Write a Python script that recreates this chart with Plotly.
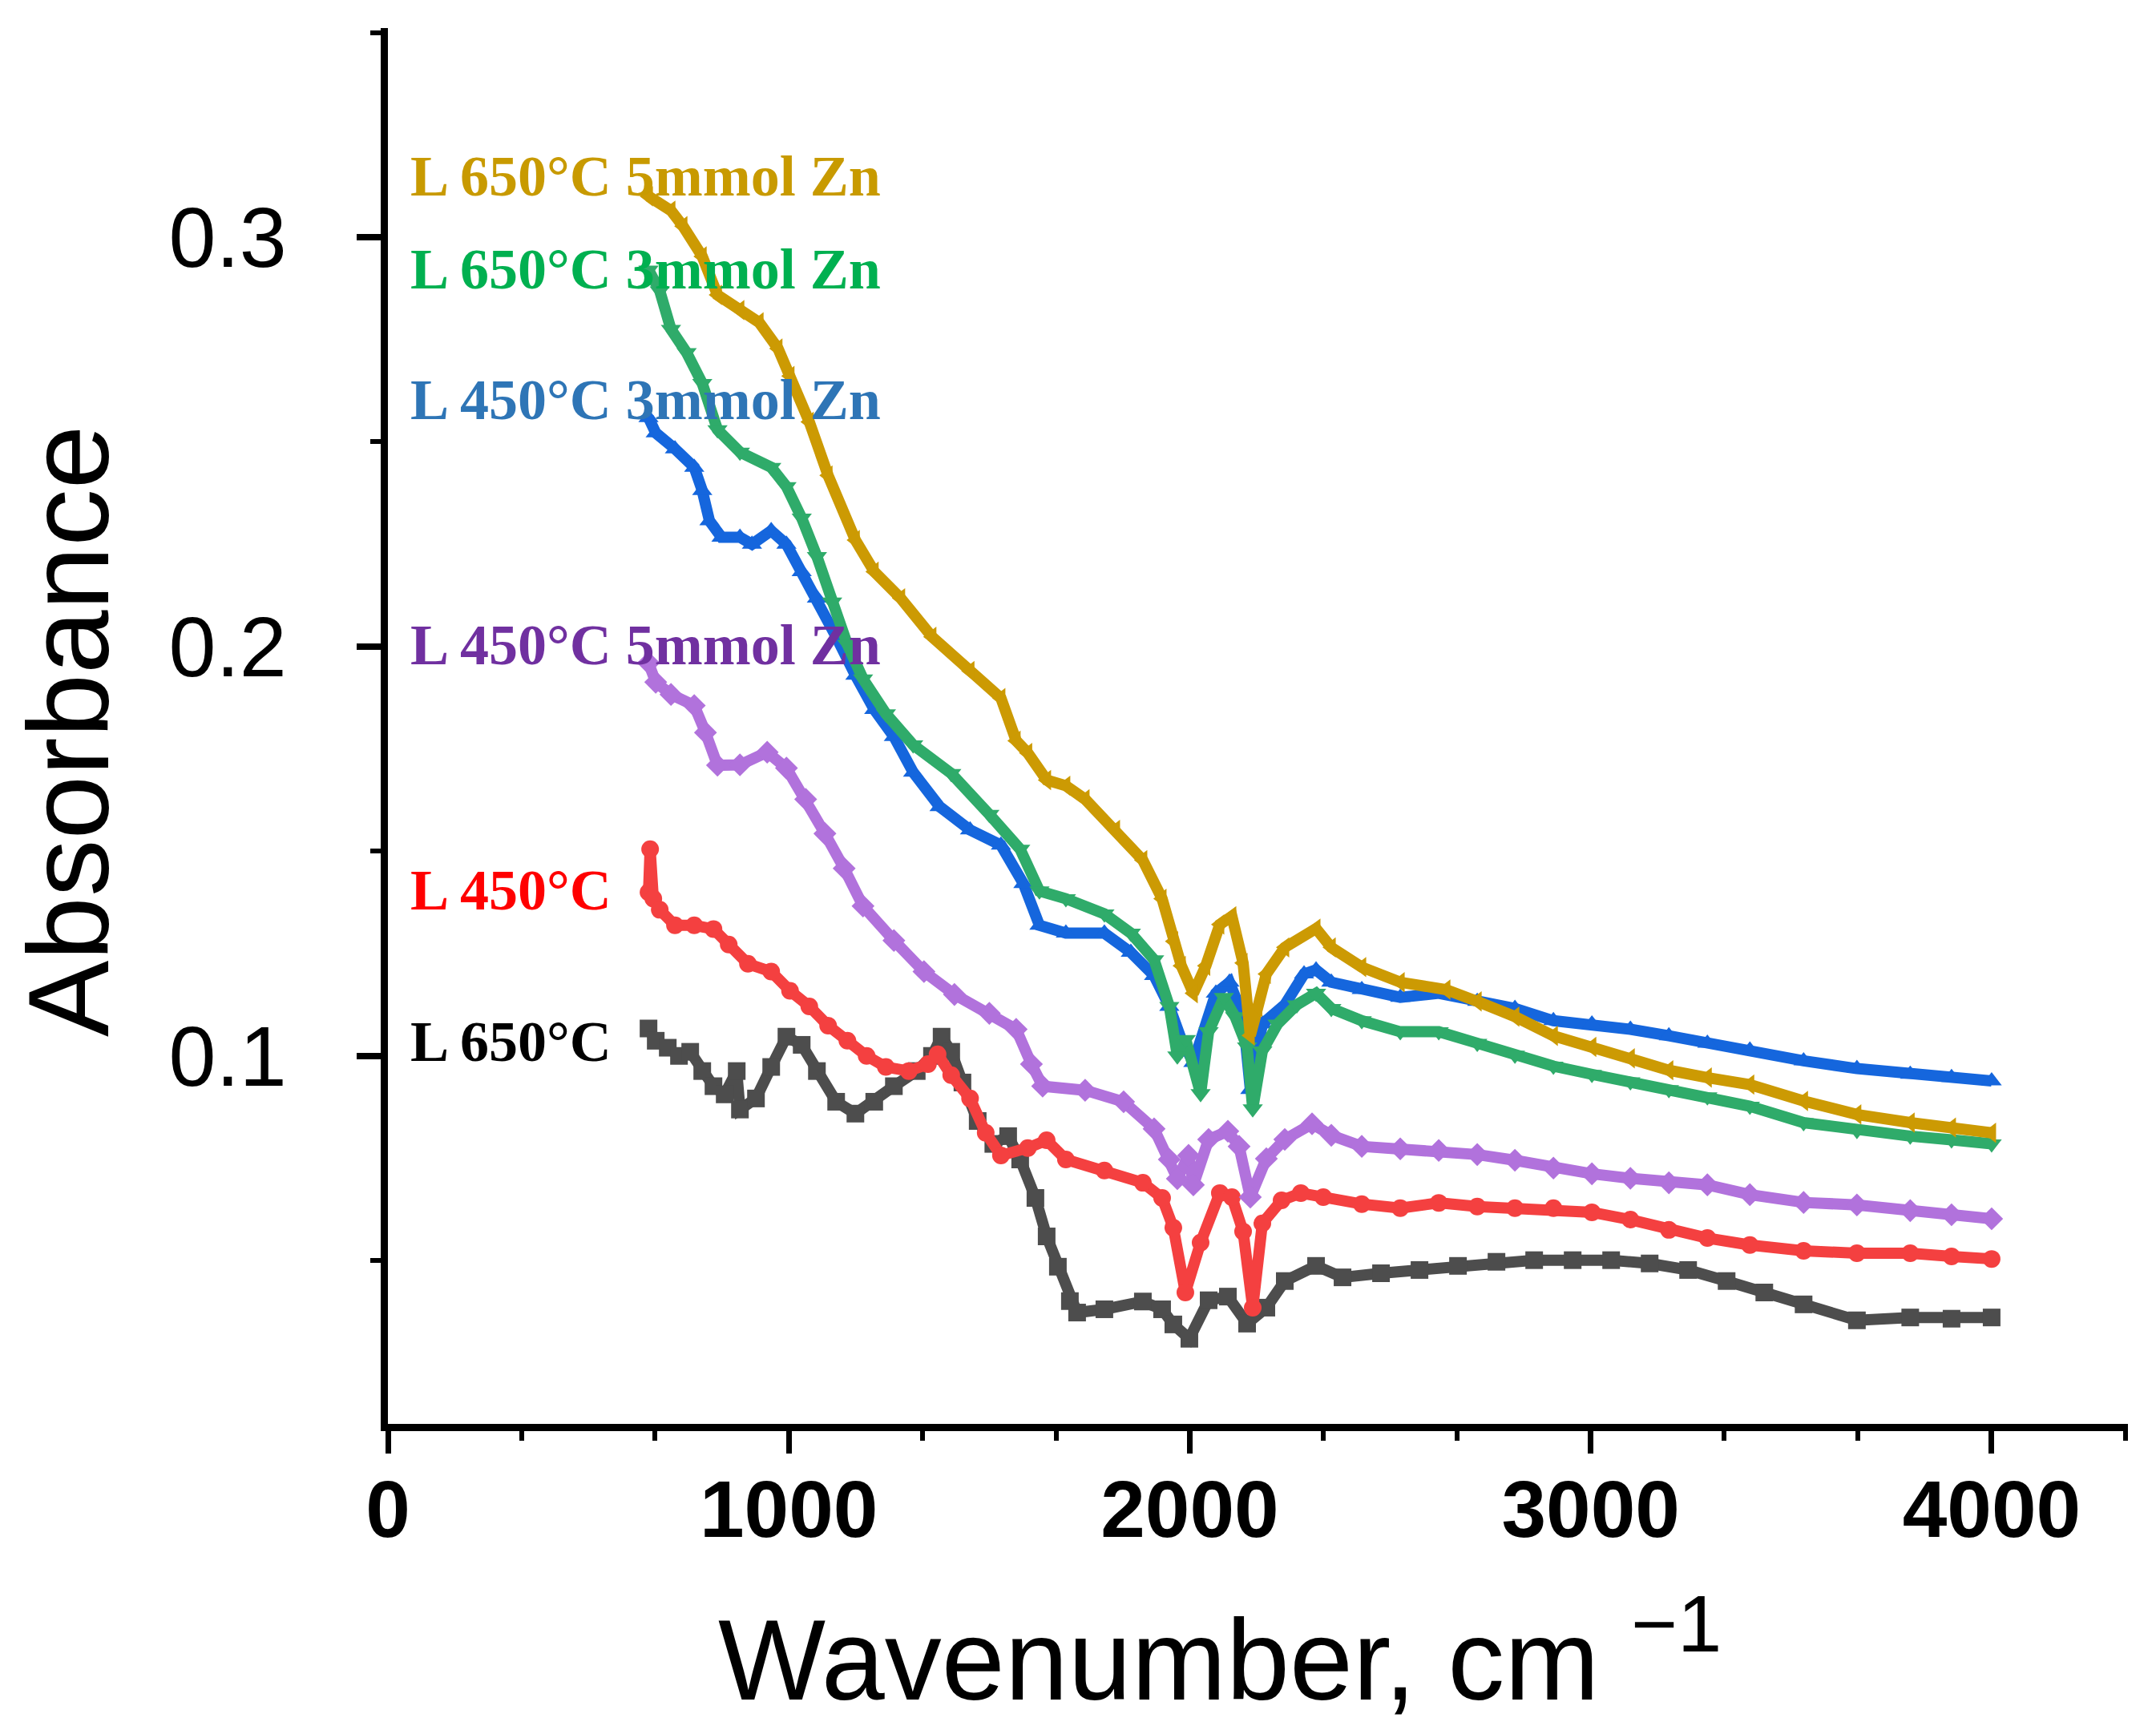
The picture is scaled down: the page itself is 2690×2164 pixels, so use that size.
import plotly.graph_objects as go

# ---------------- data ----------------
names = ["L 650°C", "L 450°C", "L 450°C 3mmol Zn", "L 650°C 3mmol Zn",
         "L 450°C 5mmol Zn", "L 650°C 5mmol Zn"]

x_650 = [650, 668, 698, 726, 754, 784, 812, 840, 870, 878, 918, 956, 994, 1032, 1070, 1118,
         1166, 1213, 1262, 1319, 1357, 1381, 1405, 1433, 1471, 1510, 1547, 1577, 1615, 1643,
         1671, 1701, 1719, 1787, 1883, 1931, 1959, 1999, 2047, 2095, 2143, 2191, 2237, 2315,
         2381, 2477, 2573, 2669, 2765, 2859, 2955, 3051, 3147, 3243, 3339, 3433, 3531, 3664,
         3797, 3900, 4000]
y_650 = [0.1067, 0.1037, 0.102, 0.100, 0.101, 0.0963, 0.0926, 0.0906, 0.0963, 0.0869, 0.0896,
         0.0973, 0.1047, 0.1027, 0.0963, 0.0888, 0.0859, 0.0888, 0.0926, 0.0963, 0.100, 0.1047,
         0.101, 0.0935, 0.0841, 0.0785, 0.0804, 0.0747, 0.0653, 0.0559, 0.0485, 0.0401, 0.0373,
         0.0381, 0.040, 0.0381, 0.0344, 0.0309, 0.0403, 0.0412, 0.0346, 0.0385, 0.045, 0.0487,
         0.0459, 0.0469, 0.0477, 0.0487, 0.0497, 0.0501, 0.0501, 0.0501, 0.0493, 0.0477, 0.045,
         0.0422, 0.0393, 0.0354, 0.0361, 0.0358, 0.0361]

x_450 = [650, 654, 662, 678, 716, 764, 812, 850, 898, 956, 1003, 1051, 1098, 1146, 1194, 1242,
         1299, 1347, 1371, 1405, 1452, 1491, 1529, 1596, 1643, 1691, 1787, 1883, 1931, 1959,
         1989, 2027, 2075, 2105, 2133, 2157, 2181, 2229, 2277, 2333, 2429, 2525, 2621, 2717,
         2811, 2907, 3003, 3099, 3195, 3291, 3397, 3531, 3664, 3797, 3900, 4000]
y_450 = [0.140, 0.1505, 0.1384, 0.1357, 0.1319, 0.1319, 0.131, 0.1272, 0.1225, 0.1206, 0.1159,
         0.1121, 0.1074, 0.1037, 0.100, 0.0973, 0.0963, 0.098, 0.1004, 0.0953, 0.0896, 0.0812,
         0.0757, 0.0775, 0.0794, 0.0747, 0.072, 0.069, 0.0653, 0.058, 0.0422, 0.0544, 0.0665,
         0.0655, 0.0571, 0.0385, 0.0591, 0.0647, 0.0665, 0.0655, 0.0638, 0.0628, 0.0641, 0.0632,
         0.0628, 0.0628, 0.0618, 0.060, 0.0575, 0.0555, 0.0538, 0.0524, 0.0518, 0.0518, 0.051,
         0.0504]

x_450_3 = [650, 668, 716, 764, 784, 802, 832, 878, 908, 956, 994, 1032, 1070, 1118, 1166, 1213,
           1262, 1310, 1376, 1452, 1529, 1585, 1625, 1691, 1787, 1853, 1911, 1949, 1979, 2009,
           2065, 2099, 2133, 2151, 2181, 2237, 2285, 2315, 2353, 2429, 2525, 2621, 2717, 2811,
           2907, 3003, 3099, 3195, 3291, 3397, 3531, 3664, 3797, 3900, 4000]
y_450_3 = [0.2559, 0.2522, 0.2483, 0.2438, 0.2381, 0.2307, 0.2267, 0.2267, 0.225, 0.2283, 0.225,
           0.2183, 0.2118, 0.2024, 0.193, 0.1846, 0.178, 0.1693, 0.1609, 0.1552, 0.1515, 0.1421,
           0.1319, 0.130, 0.130, 0.1253, 0.1196, 0.1121, 0.104, 0.0984, 0.1153, 0.118, 0.1096,
           0.0918, 0.1078, 0.1125, 0.120, 0.121, 0.118, 0.1162, 0.1143, 0.1153, 0.1133, 0.1116,
           0.1086, 0.1078, 0.1065, 0.1049, 0.1031, 0.1014, 0.0988, 0.0969, 0.0955, 0.0947, 0.0939]

x_650_3 = [650, 678, 706, 745, 784, 822, 878, 956, 994, 1032, 1070, 1108, 1146, 1185, 1242, 1310,
           1405, 1500, 1577, 1625, 1691, 1787, 1853, 1911, 1949, 1969, 1990, 2027, 2047, 2085,
           2113, 2143, 2157, 2181, 2219, 2267, 2315, 2353, 2429, 2525, 2621, 2717, 2811, 2907,
           3003, 3099, 3195, 3291, 3397, 3531, 3664, 3797, 3900, 4000]
y_650_3 = [0.292, 0.2869, 0.2775, 0.2718, 0.2643, 0.253, 0.2475, 0.2438, 0.2391, 0.2314, 0.222,
           0.2109, 0.2005, 0.1921, 0.1836, 0.176, 0.169, 0.159, 0.1505, 0.1403, 0.1384, 0.1347,
           0.130, 0.1235, 0.1121, 0.100, 0.104, 0.0908, 0.1059, 0.1143, 0.1096, 0.1022, 0.0871,
           0.1012, 0.1078, 0.1125, 0.1153, 0.1116, 0.1086, 0.1059, 0.1059, 0.1031, 0.1002, 0.0975,
           0.0955, 0.0937, 0.0918, 0.090, 0.0877, 0.0837, 0.0818, 0.0804, 0.0795, 0.0785]

x_450_5 = [650, 668, 706, 764, 792, 822, 878, 946, 994, 1042, 1090, 1138, 1185, 1262, 1337, 1413,
           1500, 1567, 1605, 1633, 1739, 1835, 1911, 1949, 1969, 1997, 2009, 2047, 2095, 2123,
           2151, 2191, 2237, 2305, 2353, 2429, 2525, 2621, 2717, 2811, 2907, 3003, 3099, 3195,
           3291, 3397, 3531, 3664, 3797, 3900, 4000]
y_450_5 = [0.196, 0.1913, 0.1883, 0.1856, 0.179, 0.171, 0.1711, 0.1742, 0.1703, 0.1627, 0.1543,
           0.1458, 0.1366, 0.1282, 0.1206, 0.115, 0.1104, 0.1065, 0.098, 0.0926, 0.0916, 0.0888,
           0.0822, 0.0747, 0.070, 0.0757, 0.0685, 0.0796, 0.0816, 0.0779, 0.0655, 0.0749, 0.0796,
           0.0834, 0.0806, 0.0779, 0.0773, 0.0769, 0.0759, 0.0745, 0.0726, 0.0712, 0.0701, 0.069,
           0.0685, 0.0661, 0.0642, 0.0636, 0.0622, 0.0612, 0.0602]

x_650_5 = [650, 706, 736, 784, 822, 878, 926, 973, 1003, 1051, 1098, 1166, 1213, 1279, 1357, 1452,
           1529, 1567, 1596, 1643, 1691, 1739, 1815, 1883, 1931, 1960, 1979, 2009, 2040, 2075,
           2105, 2133, 2151, 2170, 2191, 2237, 2315, 2353, 2429, 2525, 2639, 2717, 2811, 2907,
           3003, 3099, 3195, 3291, 3397, 3531, 3664, 3797, 3900, 4000]
y_650_5 = [0.310, 0.3065, 0.3027, 0.2953, 0.2859, 0.2822, 0.2792, 0.2728, 0.2661, 0.2549, 0.2418,
           0.226, 0.2183, 0.2118, 0.2024, 0.194, 0.1874, 0.177, 0.174, 0.1674, 0.166, 0.1627,
           0.1552, 0.1478, 0.1384, 0.128, 0.122, 0.1153, 0.122, 0.1321, 0.1341, 0.1227, 0.105,
           0.112, 0.120, 0.1265, 0.1311, 0.1265, 0.1217, 0.118, 0.1162, 0.1133, 0.1096, 0.1049,
           0.1022, 0.0994, 0.0965, 0.0947, 0.093, 0.089, 0.0857, 0.0837, 0.0825, 0.0812]

xs = [x_650, x_450, x_450_3, x_650_3, x_450_5, x_650_5]
ys = [y_650, y_450, y_450_3, y_650_3, y_450_5, y_650_5]

line_colors = ["#4d4d4d", "#f44040", "#1566dd", "#2fab6a", "#b172dc", "#cc9a03"]
symbols = ["square", "circle", "triangle-up", "triangle-down", "diamond", "triangle-left"]
label_colors = ["#000000", "#ff0000", "#2e75b6", "#00b050", "#7030a0", "#c89a00"]
label_y = [0.1035, 0.1405, 0.2602, 0.2922, 0.2003, 0.3149]

x_ticks = [0, 1000, 2000, 3000, 4000]
y_ticks = [0.1, 0.2, 0.3]

# ---------------- figure ----------------
fig = go.Figure()
for i in range(6):
    fig.add_trace(go.Scatter(
        x=xs[i], y=ys[i], mode="lines+markers", name=names[i],
        line=dict(color=line_colors[i], width=14),
        marker=dict(symbol=symbols[i], size=22, color=line_colors[i]),
        showlegend=False,
    ))

annotations = []
for i in range(6):
    annotations.append(dict(
        x=52, y=label_y[i], xref="x", yref="y", xanchor="left", yanchor="middle",
        text=names[i], showarrow=False,
        font=dict(family="Liberation Serif, Times New Roman", size=72, color=label_colors[i],
                  weight="bold"),
    ))

annotations.append(dict(
    x=0.478, y=-0.163, xref="paper", yref="paper", xanchor="center", yanchor="middle",
    text="Wavenumber, cm <sup>\u22121</sup>", showarrow=False,
    font=dict(family="Liberation Sans, Arial", size=142, color="black"),
))
annotations.append(dict(
    x=-0.1833, y=0.496, xref="paper", yref="paper", xanchor="center", yanchor="middle",
    text="Absorbance", textangle=-90, showarrow=False,
    font=dict(family="Liberation Sans, Arial", size=143, color="black"),
))

fig.update_layout(
    width=2690, height=2164,
    margin=dict(l=484, r=35, t=35, b=387),
    paper_bgcolor="white", plot_bgcolor="white",
    annotations=annotations,
    xaxis=dict(
        range=[0, 4340], showgrid=False, zeroline=False,
        showline=True, linecolor="black", linewidth=9,
        tickmode="array", tickvals=x_ticks, ticktext=[str(v) for v in x_ticks],
        ticks="outside", ticklen=28, tickwidth=7, tickcolor="black",
        minor=dict(dtick=1000 / 3, tick0=0, ticks="outside", ticklen=12, tickwidth=6,
                   tickcolor="black", showgrid=False),
        tickfont=dict(family="Liberation Sans, Arial", size=100, color="black", weight="bold"),
        ticklabelstandoff=-16,
    ),
    yaxis=dict(
        range=[0.0101, 0.3511], showgrid=False, zeroline=False,
        showline=True, linecolor="black", linewidth=9,
        tickmode="array", tickvals=y_ticks, ticktext=["0.1", "0.2", "0.3"],
        ticks="outside", ticklen=30, tickwidth=8, tickcolor="black",
        minor=dict(dtick=0.05, tick0=0, ticks="outside", ticklen=13, tickwidth=6,
                   tickcolor="black", showgrid=False),
        tickfont=dict(family="Liberation Sans, Arial", size=106, color="black"),
        ticklabelstandoff=66,
    ),
)

fig.write_html("out.html")
